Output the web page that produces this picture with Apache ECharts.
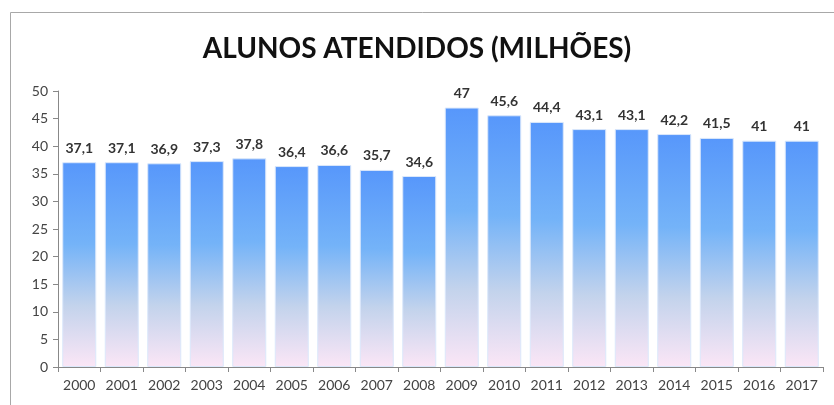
<!DOCTYPE html>
<html>
<head>
<meta charset="utf-8">
<script src="https://cdn.jsdelivr.net/npm/echarts@6/dist/echarts.min.js"></script>
<style>
  html, body { margin: 0; padding: 0; background: #fff; }
  #chart { width: 834px; height: 405px; }
</style>
</head>
<body>
<div id="chart"></div>
<script>
const years = ['2000', '2001', '2002', '2003', '2004', '2005', '2006', '2007', '2008',
  '2009', '2010', '2011', '2012', '2013', '2014', '2015', '2016', '2017'];
const alunos = [37.1, 37.1, 36.9, 37.3, 37.8, 36.4, 36.6, 35.7, 34.6,
  47, 45.6, 44.4, 43.1, 43.1, 42.2, 41.5, 41, 41];

const chart = echarts.init(document.getElementById('chart'));

// Bar fill: blue at the top fading into pale pink at the axis
const barFill = new echarts.graphic.LinearGradient(0, 0, 0, 1, [
  { offset: 0, color: '#5797fb' },
  { offset: 0.4, color: '#74b3f8' },
  { offset: 0.7, color: '#c3d3ec' },
  { offset: 1, color: '#fbe6f6' }
]);

const option = {
  animation: false,
  textStyle: { fontFamily: 'Lato, "Open Sans", sans-serif' },
  title: {
    text: 'ALUNOS ATENDIDOS (MILHÕES)',
    left: 'center',
    top: 30,
    textStyle: { fontSize: 28, fontWeight: 'bold', color: '#111', fontFamily: 'Lato, "Open Sans", sans-serif' }
  },
  graphic: [{
    type: 'rect',
    shape: { x: 10.5, y: 12.5, width: 900, height: 500 },
    style: { fill: 'none', stroke: '#a8a8a8', lineWidth: 1 },
    silent: true
  }],
  grid: { left: 58, right: 11, top: 91, bottom: 38 },
  xAxis: {
    type: 'category',
    data: years,
    axisLine: { lineStyle: { color: '#888' } },
    axisTick: { show: true, alignWithLabel: false, length: 5, lineStyle: { color: '#888' } },
    axisLabel: { color: '#444', fontSize: 14, margin: 11, interval: 0 }
  },
  yAxis: {
    type: 'value',
    min: 0,
    max: 50,
    interval: 5,
    splitLine: { show: false },
    axisLine: { show: true, lineStyle: { color: '#888' } },
    axisTick: { show: true, length: 5, lineStyle: { color: '#888' } },
    axisLabel: { color: '#444', fontSize: 14, margin: 10 }
  },
  series: [{
    type: 'bar',
    data: alunos,
    barCategoryGap: '20%',
    itemStyle: { color: barFill, borderColor: '#dbe8fb', borderWidth: 1 },
    label: {
      show: true,
      position: 'top',
      distance: 7,
      color: '#333',
      fontSize: 14,
      fontWeight: 'bold',
      formatter: p => String(p.value).replace('.', ',')
    }
  }]
};

chart.setOption(option);
window.addEventListener('resize', () => chart.resize());
</script>
</body>
</html>
